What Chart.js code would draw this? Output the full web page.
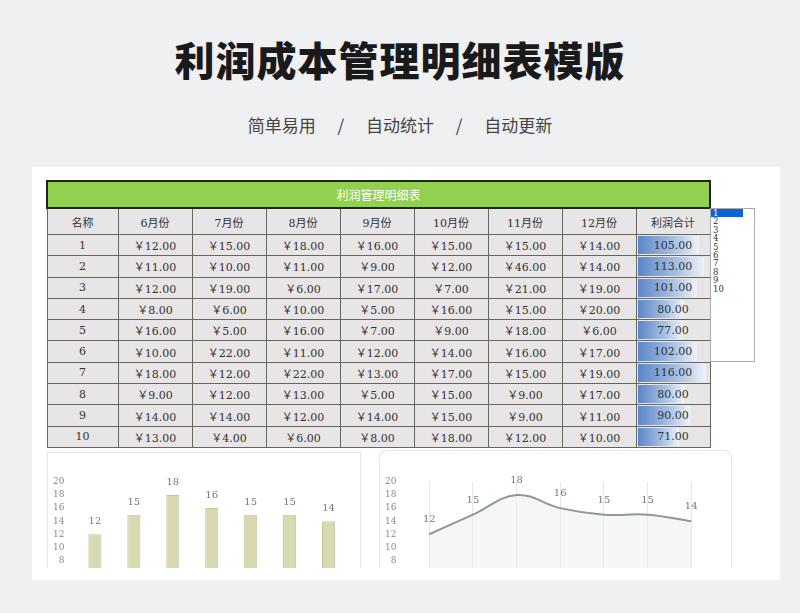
<!DOCTYPE html>
<html><head><meta charset="utf-8">
<script src="https://cdn.jsdelivr.net/npm/chart.js@4"></script>
<style>
body{margin:0;width:800px;height:613px;background:#eff0f2;font-family:"Noto Sans CJK SC",sans-serif;position:relative;overflow:hidden}
#t{position:absolute;top:30px;left:0;width:800px;text-align:center;font-size:40px;font-weight:900;color:#1a1a1a;letter-spacing:1px}
#s{position:absolute;top:112px;left:0;width:800px;text-align:center;font-size:17px;color:#444;word-spacing:18px}
#card{position:absolute;left:32px;top:167px;width:748px;height:413px;background:#fff}
table{position:absolute;left:46px;top:180px;border-collapse:collapse;font-family:"DejaVu Serif","Noto Sans CJK SC",serif;font-size:11px;color:#333}
td{border:1.5px solid #6b6560;background:#e8e5e6;text-align:center;height:20.3px;padding:0;width:73px}
td.n{width:70px}
.g td{background:#92d050;color:#fff;height:25px;border:2px solid #222;font-family:"Noto Sans CJK SC";font-size:12px}
.h td{height:25px}
td.b{position:relative}
.bar{position:absolute;left:1px;top:1px;bottom:1px;background:linear-gradient(90deg,#5a86c8,#a9c2e6 60%,#eef3fa)}
.bv{position:relative}
#lb{position:absolute;left:710px;top:208px;width:43px;height:152px;border:1px solid #aaa;background:#fff;font-family:"DejaVu Serif";font-size:8.5px;line-height:8.4px;color:#333}
#lb div{padding-left:2px;width:30px}
.c{position:absolute;overflow:hidden;background:#fff}
</style></head><body>
<div id="t">利润成本管理明细表模版</div>
<div id="s">简单易用 / 自动统计 / 自动更新</div>
<div id="card"></div>
<table id="tb"></table>
<div id="lb"></div>
<div class="c" style="left:47px;top:452px;width:312px;height:115px;border:1px solid #e4e4e4;border-bottom:none"><canvas id="c1" style="position:absolute;left:0;top:0"></canvas></div>
<div class="c" style="left:379px;top:450px;width:351px;height:117px;border:1px solid #e4e4e4;border-bottom:none;border-radius:8px 8px 0 0"><canvas id="c2" style="position:absolute;left:0;top:0"></canvas></div>
<script>
const months=["6月份","7月份","8月份","9月份","10月份","11月份","12月份"];
const names=[1,2,3,4,5,6,7,8,9,10];
const m6=[12,11,12,8,16,10,18,9,14,13];
const m7=[15,10,19,6,5,22,12,12,14,4];
const m8=[18,11,6,10,16,11,22,13,12,6];
const m9=[16,9,17,5,7,12,13,5,14,8];
const m10=[15,12,7,16,9,14,17,15,15,18];
const m11=[15,46,21,15,18,16,15,9,9,12];
const m12=[14,14,19,20,6,17,19,17,11,10];
const totals=[105,113,101,80,77,102,116,80,90,71];
const cols=[m6,m7,m8,m9,m10,m11,m12];
let h='<tr class="g"><td colspan="9">利润管理明细表</td></tr><tr class="h"><td class="n">名称</td>'+months.map(m=>'<td>'+m+'</td>').join('')+'<td>利润合计</td></tr>';
names.forEach((n,i)=>{h+='<tr><td class="n">'+n+'</td>'+cols.map(c=>'<td>￥'+c[i].toFixed(2)+'</td>').join('')+'<td class="b"><div class="bar" style="width:'+(totals[i]/116*68)+'px"></div><span class="bv">'+totals[i].toFixed(2)+'</span></td></tr>';});
document.getElementById('tb').innerHTML=h;
document.getElementById('lb').innerHTML=names.map((n,i)=>'<div style="'+(i==0?'background:#0a64d8;color:#fff':'')+'">'+n+'</div>').join('');
const row=cols.map(c=>c[0]);
const lbl={id:'lbl',afterDatasetsDraw(ch){const x=ch.ctx;x.save();x.font='10px "DejaVu Serif"';x.fillStyle='#777';x.textAlign='center';ch.getDatasetMeta(0).data.forEach((p,i)=>{x.fillText(row[i],p.x,p.y-(ch.config.type==='bar'?10:12));});x.restore();}};
const sc={y:{min:0,max:20,ticks:{stepSize:2,font:{size:9,family:'DejaVu Serif'},color:'#888'},grid:{display:false},border:{display:false}},x:{ticks:{display:false},border:{display:false}}};
function mk(id,w,hh){const c=document.getElementById(id);c.width=w;c.height=hh;c.style.width=w+'px';c.style.height=hh+'px';return c;}
new Chart(mk('c1',312,168),{type:'bar',data:{labels:months,datasets:[{data:row,backgroundColor:'#d8d9b0',borderColor:'#c4c596',borderWidth:1,barPercentage:0.42}]},
options:{responsive:false,animation:false,plugins:{legend:{display:false},tooltip:{enabled:false}},layout:{padding:{top:29,left:2,right:12}},scales:{...sc,x:{...sc.x,grid:{display:false}}}},plugins:[lbl]});
new Chart(mk('c2',351,170),{type:'line',data:{labels:months,datasets:[{data:row,borderColor:'#8c9a94',borderWidth:2,tension:0.4,pointRadius:0,fill:true,backgroundColor:'rgba(238,238,238,0.5)'}]},
options:{responsive:false,animation:false,plugins:{legend:{display:false},tooltip:{enabled:false}},layout:{padding:{top:31,left:2,right:18}},scales:{...sc,x:{...sc.x,offset:true,grid:{display:true,color:'#e6e6e6'}}}},plugins:[lbl]});
</script></body></html>
